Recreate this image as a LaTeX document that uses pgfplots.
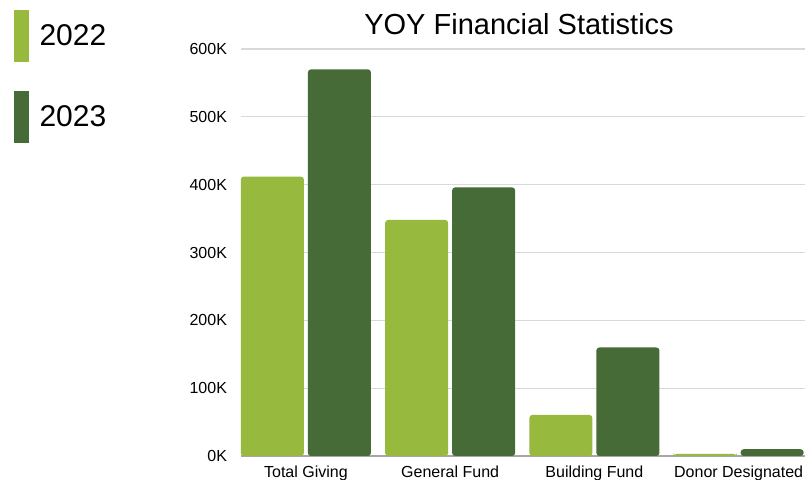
\documentclass[border=0pt]{standalone}
\usepackage{pgfplots}
\pgfplotsset{compat=1.18}
\usepackage{fontspec}
\setmainfont{Liberation Sans}
\definecolor{lg}{HTML}{97B93D}
\definecolor{dg}{HTML}{476B37}
\definecolor{gridc}{HTML}{D9D9D9}
\definecolor{axc}{HTML}{A6A6A6}
\begin{document}
\begin{tikzpicture}
\path[use as bounding box] (0pt,0pt) rectangle (404.5pt,240pt);
\begin{axis}[
  at={(120.5pt,12pt)}, anchor=south west,
  scale only axis, width=282pt, height=203.5pt,
  xmin=-0.45, xmax=3.46, ymin=0, ymax=600000,
  axis lines=left,
  axis line style={-},
  x axis line style={draw=axc, line width=0.8pt},
  y axis line style={draw=none},
  ymajorgrids, grid style={draw=gridc, line width=0.6pt},
  ytick={0,100000,200000,300000,400000,500000,600000},
  yticklabels={0K,100K,200K,300K,400K,500K,600K},
  scaled y ticks=false,
  xtick={0,1,2,3},
  xticklabels={Total Giving,General Fund,Building Fund,Donor Designated},
  major tick length=0pt,
  tick label style={font=\fontsize{8}{10}\selectfont, text=black},
  yticklabel style={xshift=-3.5pt},
  xticklabel style={yshift=-1.5pt},
  title={YOY Financial Statistics},
  title style={font=\fontsize{14.5}{17}\selectfont, at={(0.493,1.032)}, anchor=center},
  ybar=2pt, bar width=31.5pt,
  legend style={at={(-0.404,1.096)}, anchor=north west, draw=none, fill=none,
    font=\fontsize{15}{18}\selectfont, inner sep=0pt, row sep=14.5pt,
    /tikz/every odd column/.append style={column sep=3.5pt}},
  legend cell align=left,
  legend image code/.code={\path[#1,draw=none,rounded corners=0pt] (0pt,-13pt) rectangle (7.5pt,13pt);},
]
\addplot[fill=lg, draw=none, rounded corners=1.5pt] coordinates {(0,412000) (1,348000) (2,60500) (3,3000)};
\addplot[fill=dg, draw=none, rounded corners=1.5pt] coordinates {(0,570000) (1,396000) (2,160000) (3,10000)};
\legend{2022,2023}
\end{axis}
\end{tikzpicture}
\end{document}
